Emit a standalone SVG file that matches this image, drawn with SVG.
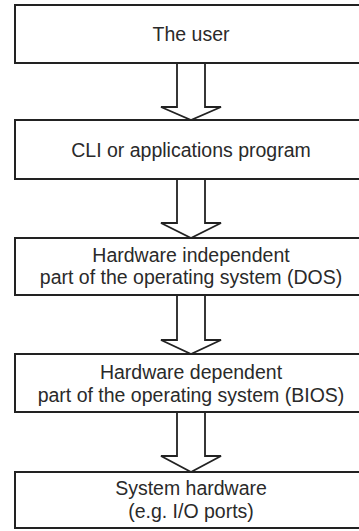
<svg xmlns="http://www.w3.org/2000/svg" width="359" height="531" viewBox="0 0 359 531">
<style>
.box{fill:#fff;stroke:#222;stroke-width:2}
.arr{fill:#fff;stroke:#222;stroke-width:1.8;stroke-linejoin:miter}
text{font-family:"Liberation Sans",Arial,sans-serif;font-size:19.5px;fill:#2a2a2a;text-anchor:middle}
</style>
<rect width="359" height="531" fill="#fff"/>
<g id="connectors">
<path class="arr" d="M177,63 V107 H161 L191,120 L221,107 H205 V63"/>
<path class="arr" d="M177,179 V223 H161 L191,238 L221,223 H205 V179"/>
<path class="arr" d="M177,295 V340 H161 L191,354 L221,340 H205 V295"/>
<path class="arr" d="M177,413 V456 H161 L191,472 L221,456 H205 V413"/>
</g>
<g id="user">
<rect class="box" x="15" y="5" width="352" height="58"/>
<text x="191" y="41">The user</text>
</g>
<g id="cli">
<rect class="box" x="15" y="120" width="352" height="59"/>
<text x="191" y="157">CLI or applications program</text>
</g>
<g id="dos">
<rect class="box" x="15" y="238" width="352" height="57"/>
<text x="191" y="262">Hardware independent</text>
<text x="191" y="284">part of the operating system (DOS)</text>
</g>
<g id="bios">
<rect class="box" x="15" y="354" width="352" height="58"/>
<text x="191" y="379">Hardware dependent</text>
<text x="191" y="402">part of the operating system (BIOS)</text>
</g>
<g id="hardware">
<rect class="box" x="15" y="472" width="352" height="56"/>
<text x="191" y="495">System hardware</text>
<text x="191" y="518">(e.g. I/O ports)</text>
</g>
</svg>
